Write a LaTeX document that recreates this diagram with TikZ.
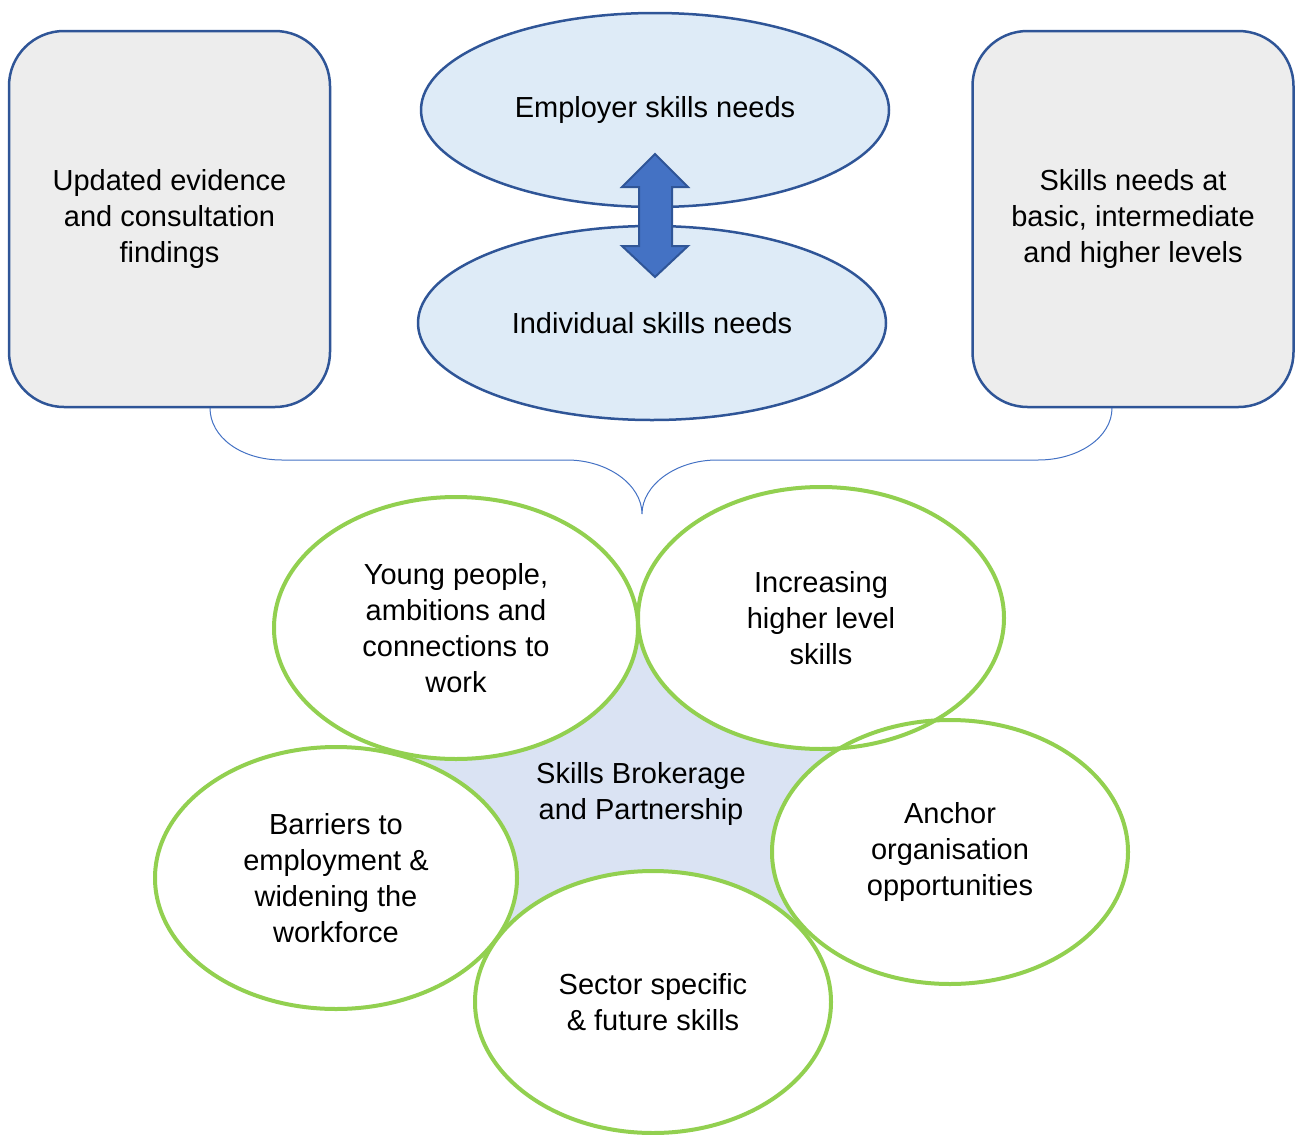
\documentclass[tikz,border=0pt]{standalone}
\usepackage{fontspec}
\setmainfont{Liberation Sans}
\usetikzlibrary{shapes.geometric}
\definecolor{darkblue}{HTML}{2F5597}
\definecolor{midblue}{HTML}{4472C4}
\definecolor{paleblue}{HTML}{DEEBF7}
\definecolor{starblue}{HTML}{DAE3F3}
\definecolor{boxgrey}{HTML}{EDEDED}
\definecolor{leafgreen}{HTML}{92D050}

\begin{document}
\begin{tikzpicture}[x=1pt, y=-1pt,
  every node/.style={font=\fontsize{29}{36}\selectfont, align=center, inner sep=0pt},
  sidebox/.style={draw=darkblue, line width=2.5pt, fill=boxgrey, rounded corners=55pt, minimum width=321pt, minimum height=376pt},
  needs/.style={ellipse, draw=darkblue, line width=2.5pt, fill=paleblue, minimum width=468pt, minimum height=194pt},
  petal/.style={ellipse, minimum height=262pt}]
  \useasboundingbox (0,0) rectangle (1296,1135);
  % side boxes
  \node[sidebox] (evidence) at (169.5,219) {Updated evidence\\and consultation\\findings};
  \node[sidebox] (levels) at (1133,219) {Skills needs at\\basic, intermediate\\and higher levels};
  % employer / individual
  \node[needs] (employer) at (655,110) {Employer skills needs};
  \node[needs] (individual) at (652,323) {Individual skills needs};
  \draw[darkblue, line width=2pt, fill=midblue] (655,154) -- (688,187) -- (672,187) -- (672,246) -- (688,246) -- (655,277)
    -- (622,246) -- (639,246) -- (639,187) -- (622,187) -- cycle;
  % brace
  \coordinate (brace-l) at (210,408); \coordinate (brace-r) at (1112,408); \coordinate (brace-tip) at (642,514);
  \draw[midblue, line width=1pt] (brace-l) .. controls (210,437) and (241,460) .. (282,460) -- (567,460)
    .. controls (608,460) and (642,485) .. (brace-tip) .. controls (642,485) and (676,460) .. (717,460) -- (1038,460)
    .. controls (1079,460) and (1112,437) .. (brace-r);
  % centre star
  \coordinate (c-young) at (456,628); \coordinate (c-higher) at (821,618); \coordinate (c-anchor) at (950,852);
  \coordinate (c-barriers) at (336,878); \coordinate (c-sector) at (653,1002);
  \fill[starblue] (c-young) -- (c-higher) -- (c-anchor) -- (c-sector) -- (c-barriers) -- cycle;
  % petals
  \node[petal, fill=white, minimum width=364pt] (young) at (c-young) {Young people,\\ambitions and\\connections to\\work};
  \node[petal, fill=white, minimum width=366pt] (higher) at (c-higher) {Increasing\\higher level\\skills};
  \node[petal, fill=white, minimum width=356pt, minimum height=264pt] (anchor) at (c-anchor) {Anchor\\organisation\\opportunities};
  \node[petal, fill=white, minimum width=362pt] (barriers) at (c-barriers) {Barriers to\\employment \&\\widening the\\workforce};
  \node[petal, fill=white, minimum width=356pt] (sector) at (c-sector) {Sector specific\\\& future skills};
  \foreach \n/\w/\h in {young/364pt/262pt, higher/366pt/262pt, anchor/356pt/264pt, barriers/362pt/262pt, sector/356pt/262pt}
    \node[ellipse, draw=leafgreen, line width=4pt, minimum width=\w, minimum height=\h] (\n-rim) at (\n.center) {};
  \node (brokerage) at (641,794) {Skills Brokerage\\and Partnership};
\end{tikzpicture}
\end{document}
